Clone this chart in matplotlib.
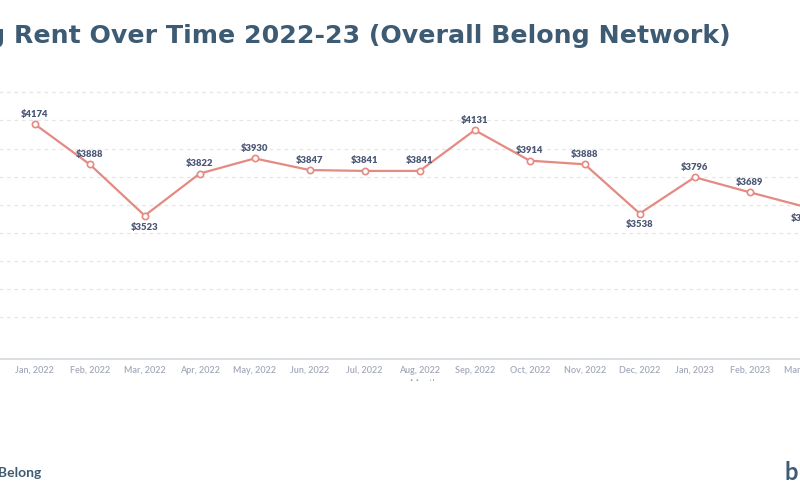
import matplotlib
matplotlib.use("Agg")
import matplotlib.pyplot as plt
from matplotlib.patches import Rectangle

# data
months = ["Jan, 2022", "Feb, 2022", "Mar, 2022", "Apr, 2022", "May, 2022",
          "Jun, 2022", "Jul, 2022", "Aug, 2022", "Sep, 2022", "Oct, 2022",
          "Nov, 2022", "Dec, 2022", "Jan, 2023", "Feb, 2023", "Mar, 2023"]
rent = [4174, 3888, 3523, 3822, 3930, 3847, 3841, 3841, 4131, 3914,
        3888, 3538, 3796, 3689, 3586]
below = [False, False, True, False, False, False, False, False, False, False,
         False, True, False, False, True]
grid_vals = [2800, 3000, 3200, 3400, 3600, 3800, 4000, 4200, 4400]

title = "Average Asking Rent Over Time 2022-23 (Overall Belong Network)"

NAVY = "#3E5B74"
LINE = "#E58A82"
LABEL = "#4B5675"
TICK = "#A3A8BA"

plt.rcParams['font.family'] = ['Lato', 'DejaVu Sans']

fig = plt.figure(figsize=(8, 5), dpi=100)
W, H = 800, 500

# axes extends past the figure edges (cropped slide)
px_left, px_right = 34.7 - 55, 34.7 + 15 * 55
ax = fig.add_axes([px_left / W, (H - 359) / H, (px_right - px_left) / W, 290 / H])
ax.set_xlim(-1, 15)
ax.set_ylim(2503, 4566)

x = list(range(len(months)))
ax.plot(x, rent, color=LINE, lw=1.6, marker='o', ms=4.5,
        mfc='white', mec=LINE, mew=1.2, zorder=3, clip_on=False)

for i, v in enumerate(rent):
    if below[i]:
        ax.annotate(f"${v}", (i, v), xytext=(0, -5), textcoords='offset points',
                    ha='center', va='top', fontsize=6.8, fontweight='heavy', color=LABEL)
    else:
        ax.annotate(f"${v}", (i, v), xytext=(0, 4), textcoords='offset points',
                    ha='center', va='bottom', fontsize=6.8, fontweight='heavy', color=LABEL)

for g in grid_vals:
    ax.axhline(g, color="#E6E6E6", lw=0.9, ls=(0, (3, 3)), zorder=1)

ax.set_xticks(x)
ax.set_xticklabels(months, fontsize=6.5, color=TICK, fontweight='semibold')
ax.tick_params(axis='x', length=0, pad=5)
ax.set_yticks([])
for s in ['top', 'right', 'left']:
    ax.spines[s].set_visible(False)
ax.spines['bottom'].set_color("#D6D9DD")
ax.spines['bottom'].set_linewidth(1.2)

# x axis label, mostly hidden below the slide area
fig.text(423 / W, 1 - 379 / H, "Month", ha='center', va='top', fontsize=7, color=TICK)
fig.patches.append(Rectangle((0, 0), 1, 1 - 381 / H, transform=fig.transFigure,
                             facecolor='white', edgecolor='none', zorder=10))

fig.text(731 / W, 1 - 36 / H, title, ha='right', va='center', family='DejaVu Sans',
         fontsize=18.2, fontweight='bold', color=NAVY, zorder=11)
fig.text(-17 / W, 1 - 473 / H, "© Belong", ha='left', va='center',
         fontsize=10, fontweight='bold', color=NAVY, zorder=11)
fig.text(784 / W, 1 - 472 / H, "b", ha='left', va='center',
         fontsize=17, fontweight='bold', color=NAVY, zorder=11)

fig.savefig("out.png", dpi=100, facecolor='white')
